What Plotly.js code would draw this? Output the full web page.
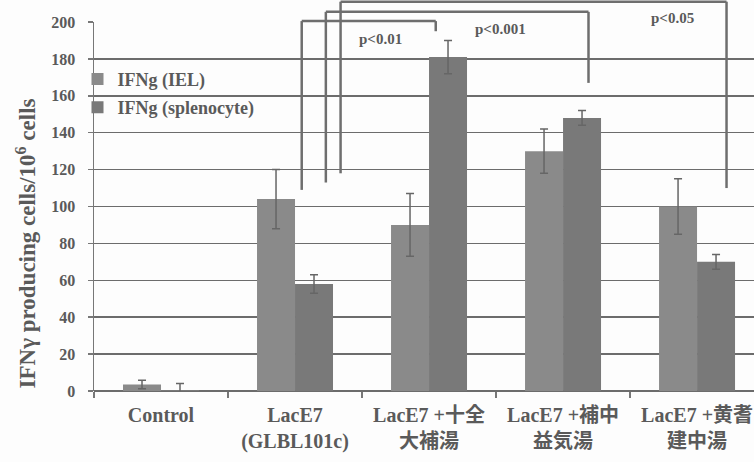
<!DOCTYPE html>
<html>
<head>
<meta charset="utf-8">
<script src="https://cdn.plot.ly/plotly-3.0.1.min.js"></script>
<style>html,body{margin:0;padding:0;background:#fdfdfd;}#chart{width:754px;height:462px;}</style>
</head>
<body>
<div id="chart"></div>
<script>
// ---- data ----
const categories = ["Control", "LacE7<br>(GLBL101c)", "LacE7 +十全<br>大補湯", "LacE7 +補中<br>益気湯", "LacE7 +黄耆<br>建中湯"];
const seriesNames = ["IFNg (IEL)", "IFNg (splenocyte)"];
const ielValues = [3.5, 104, 90, 130, 100];
const ielErrors = [2.3, 16, 17, 12, 15];
const splValues = [0.5, 58, 181, 148, 70];
const splErrors = [3.5, 5, 9, 4, 4];
const yTickValues = [0, 20, 40, 60, 80, 100, 120, 140, 160, 180, 200];
const yTitle = "IFNγ producing cells/10<sup>6</sup> cells";
// significance brackets: [left category pos, right category pos, bracket level, left drop end, right drop end]
const pLabels = ["p<0.01", "p<0.001", "p<0.05"];
const bracketLeft = [1.05, 1.23, 1.34];
const bracketRight = [2.05, 3.19, 4.22];
const bracketLevel = [200.5, 205.5, 211];
const bracketLeftEnd = [109, 113, 118];
const bracketRightEnd = [195, 167, 110];
const pLabelX = [1.64, 2.53, 3.82];
const pLabelY = [191, 196, 202];

const txt = "#5a5a5a";
const fam = "Liberation Serif, 'Noto Sans CJK JP', serif";
const yMax = 200;

const traces = [
  {type: "bar", name: seriesNames[0], x: categories, y: ielValues, legendgroup: "a",
   marker: {color: "#8a8a8a"},
   error_y: {type: "data", array: ielErrors, visible: true, color: "#666", thickness: 1.5, width: 4}},
  {type: "bar", name: seriesNames[1], x: categories, y: splValues, legendgroup: "b",
   marker: {color: "#797979"},
   error_y: {type: "data", array: splErrors, visible: true, color: "#666", thickness: 1.5, width: 4}}
];

const shapes = [];
const annotations = [];
for (let i = 0; i < pLabels.length; i++) {
  const ln = {color: "#6e6e6e", width: 2.5};
  const top = bracketLevel[i] / yMax;
  shapes.push({type: "line", xref: "x", yref: "paper", x0: bracketLeft[i], x1: bracketLeft[i], y0: bracketLeftEnd[i] / yMax, y1: top, line: ln});
  shapes.push({type: "line", xref: "x", yref: "paper", x0: bracketLeft[i], x1: bracketRight[i], y0: top, y1: top, line: ln});
  shapes.push({type: "line", xref: "x", yref: "paper", x0: bracketRight[i], x1: bracketRight[i], y0: top, y1: bracketRightEnd[i] / yMax, line: ln});
  annotations.push({xref: "x", yref: "paper", x: pLabelX[i], y: pLabelY[i] / yMax, yanchor: "middle", xanchor: "center",
    text: pLabels[i], showarrow: false,
    font: {family: fam, size: 15, color: txt, weight: "bold"}});
}
// y-axis title (placed as in the reference, lower than the plot centre)
annotations.push({xref: "paper", yref: "paper", x: 0, xshift: -68, y: 0.40, xanchor: "center", yanchor: "middle",
  textangle: -90, text: yTitle, showarrow: false,
  font: {family: fam, size: 23, color: txt, weight: "bold"}});

const layout = {
  width: 754, height: 462,
  margin: {l: 94, r: 0, t: 22, b: 71},
  paper_bgcolor: "#fdfdfd", plot_bgcolor: "#fdfdfd",
  font: {family: fam, color: txt, weight: "bold"},
  barmode: "group", bargap: 0.433, bargroupgap: 0,
  showlegend: true,
  legend: {x: -0.025, y: 0.895, xanchor: "left", yanchor: "top", bgcolor: "rgba(0,0,0,0)",
    traceorder: "grouped", tracegroupgap: 2, itemwidth: 30,
    font: {family: fam, size: 18, color: txt, weight: "bold"}},
  xaxis: {type: "category", range: [-0.5, 4.425], tickson: "boundaries", ticks: "outside", ticklen: 6,
    tickcolor: "#777", tickwidth: 1.5, showline: false, showgrid: false, zeroline: false, ticklabelstandoff: 10,
    tickfont: {family: fam, size: 20, color: txt, weight: "bold"}, fixedrange: true},
  yaxis: {range: [0, yMax], tickvals: yTickValues, ticks: "outside", ticklen: 5, tickcolor: "#777", tickwidth: 1.5,
    showline: true, linecolor: "#777", linewidth: 1.5, showgrid: true, gridcolor: "#6c6c6c", gridwidth: 1.5,
    zeroline: true, zerolinecolor: "#6c6c6c", zerolinewidth: 1.5, ticklabelstandoff: 9,
    tickfont: {family: fam, size: 16, color: txt, weight: "bold"}},
  shapes: shapes,
  annotations: annotations
};

Plotly.newPlot("chart", traces, layout, {displayModeBar: false, staticPlot: true});
</script>
</body>
</html>
